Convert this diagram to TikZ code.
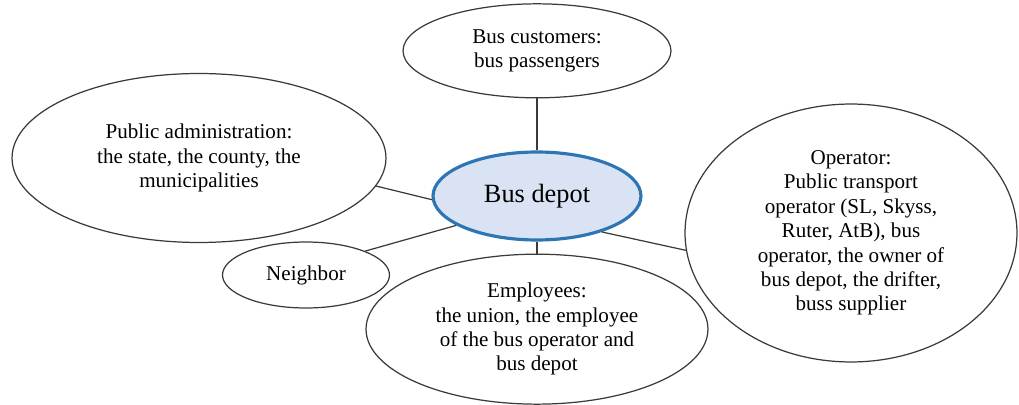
\documentclass[tikz,border=0pt]{standalone}
\usepackage{fontspec}
\setmainfont{Liberation Serif}
\usepackage{xcolor}
\usetikzlibrary{shapes,shapes.geometric}
\usetikzlibrary{positioning}
\definecolor{depotfill}{HTML}{DAE3F3}
\definecolor{depotline}{HTML}{2E75B6}
\definecolor{edge}{HTML}{3A3A3A}
\begin{document}
\begin{tikzpicture}[x=0.02cm,y=-0.02cm]
\tikzset{party/.style={ellipse,draw=edge,line width=0.7pt,inner sep=0pt,align=center,font=\fontsize{12}{13.9}\selectfont},
link/.style={draw=edge,line width=0.7pt}}
\useasboundingbox (0,0) rectangle (1019,405);
\node[ellipse,draw=depotline,fill=depotfill,line width=1.8pt,minimum width=4.16cm,minimum height=1.76cm,font=\fontsize{15}{17}\selectfont](d) at (537,196){Bus depot};
\node[party,minimum width=5.36cm,minimum height=1.88cm](c)[above=1.04cm of d]{Bus customers:\\bus passengers};
\draw[link](c) -- (d);
\node[party,minimum width=6.84cm,minimum height=3cm](e)[below=0.24cm of d]{Employees:\\the union, the employee\\of the bus operator and\\bus depot};
\draw[link](d) -- (e);
\node[party,minimum width=7.48cm,minimum height=3.38cm](a) at (199,158){Public administration:\\the state, the county, the\\municipalities};
\draw[link](a.-9) -- (d.182);
\node[party,minimum width=3.34cm,minimum height=1.32cm](n) at (306,275){Neighbor};
\draw[link](n.22) -- (d.200);
\node[party,minimum width=6.64cm,minimum height=5.16cm](o) at (851,233){Operator:\\Public transport\\operator (SL, Skyss,\\Ruter, AtB), bus\\operator, the owner of\\bus depot, the drifter,\\buss supplier};
\draw[link](d.-29) -- (o.186);
\end{tikzpicture}
\end{document}
